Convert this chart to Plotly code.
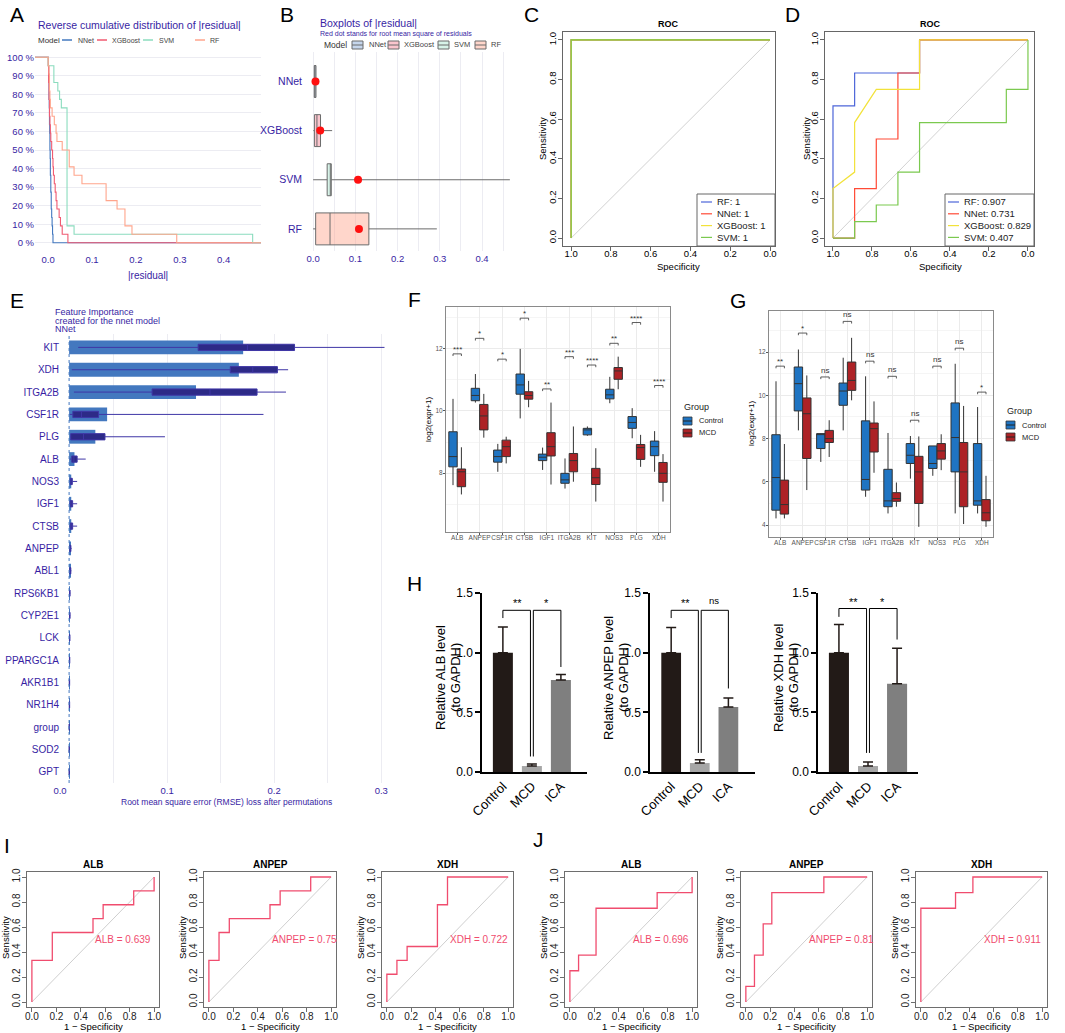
import numpy as np
import plotly.graph_objects as go

W, H = 1065, 1033
SANS = "Liberation Sans, Arial, sans-serif"
INK = "#371ea3"

# ---------------- A / B : absolute residuals (22 obs per model) ----------------
models = ["NNet", "XGBoost", "SVM", "RF"]
model_colors = ["#4378bf", "#f05a71", "#8bdcbe", "#ffa58c"]
model_fills = ["rgba(67,120,191,0.30)", "rgba(240,90,113,0.35)",
               "rgba(139,220,190,0.35)", "rgba(255,165,140,0.45)"]
res_nnet = [0.0005, 0.001, 0.0015, 0.002, 0.002, 0.0025, 0.003, 0.003, 0.0035, 0.004, 0.004,
            0.0045, 0.005, 0.005, 0.006, 0.006, 0.007, 0.007, 0.008, 0.009, 0.010, 0.011]
res_xgb = [0.0005, 0.001, 0.001, 0.002, 0.002, 0.003, 0.003, 0.004, 0.005, 0.006, 0.008,
           0.010, 0.011, 0.012, 0.014, 0.016, 0.018, 0.020, 0.025, 0.028, 0.032, 0.045]
res_svm = [0.0, 0.013, 0.013, 0.022, 0.026, 0.030, 0.043, 0.043, 0.043, 0.043, 0.043,
           0.043, 0.043, 0.043, 0.043, 0.043, 0.043, 0.043, 0.043, 0.043, 0.059, 0.466]
res_rf = [0.0, 0.002, 0.003, 0.003, 0.004, 0.005, 0.009, 0.014, 0.018, 0.020, 0.032,
          0.048, 0.048, 0.059, 0.077, 0.132, 0.132, 0.157, 0.175, 0.175, 0.191, 0.293]
residuals = [res_nnet, res_xgb, res_svm, res_rf]

# ---------------- C / D : ROC (specificity, sensitivity) ----------------
roc_models = ["RF", "NNet", "XGBoost", "SVM"]
roc_colors = ["#4d66d9", "#ff4a36", "#f2e23a", "#7bc94f"]
c_auc = ["1", "1", "1", "1"]
c_spec = [1.0, 1.0, 0.0]
c_sens = [0.0, 1.0, 1.0]
d_auc = ["0.907", "0.731", "0.829", "0.407"]
d_spec_rf = [1.0, 1.0, 0.889, 0.889, 0.556, 0.556, 0.0]
d_sens_rf = [0.0, 0.667, 0.667, 0.833, 0.833, 1.0, 1.0]
d_spec_nnet = [1.0, 0.889, 0.889, 0.778, 0.778, 0.667, 0.667, 0.556, 0.556, 0.0]
d_sens_nnet = [0.0, 0.0, 0.25, 0.25, 0.5, 0.5, 0.833, 0.833, 1.0, 1.0]
d_spec_xgb = [1.0, 1.0, 0.889, 0.889, 0.778, 0.556, 0.556, 0.0]
d_sens_xgb = [0.0, 0.25, 0.333, 0.583, 0.75, 0.75, 1.0, 1.0]
d_spec_svm = [1.0, 0.889, 0.889, 0.778, 0.778, 0.667, 0.667, 0.556, 0.556, 0.111, 0.111, 0.0, 0.0]
d_sens_svm = [0.0, 0.0, 0.083, 0.083, 0.167, 0.167, 0.333, 0.333, 0.583, 0.583, 0.75, 0.75, 1.0]
chance = [0.0, 1.0]

# ---------------- E : permutation feature importance ----------------
e_features = ["KIT", "XDH", "ITGA2B", "CSF1R", "PLG", "ALB", "NOS3", "IGF1", "CTSB", "ANPEP",
              "ABL1", "RPS6KB1", "CYP2E1", "LCK", "PPARGC1A", "AKR1B1", "NR1H4", "group", "SOD2", "GPT"]
e_baseline = 0.0085
e_mean = [0.171, 0.167, 0.127, 0.044, 0.033, 0.0135, 0.0105, 0.0105, 0.0105, 0.0097,
          0.0096, 0.0092, 0.0091, 0.0090, 0.0089, 0.0089, 0.0088, 0.0087, 0.0087, 0.0087]
e_lo = [0.017, 0.011, 0.013, 0.009, 0.0095, 0.009, 0.0088, 0.0088, 0.0088, 0.0088,
        0.0088, 0.0087, 0.0087, 0.0087, 0.0086, 0.0086, 0.0086, 0.0086, 0.0086, 0.0086]
e_q1 = [0.129, 0.159, 0.086, 0.012, 0.010, 0.011, 0.0095, 0.0095, 0.0096, 0.0092,
        0.0092, 0.0089, 0.0089, 0.0088, 0.0088, 0.0087, 0.0087, 0.0086, 0.0086, 0.0086]
e_med = [0.175, 0.180, 0.140, 0.020, 0.022, 0.013, 0.0100, 0.0103, 0.0104, 0.0096,
         0.0096, 0.0091, 0.0091, 0.0090, 0.0089, 0.0088, 0.0088, 0.0087, 0.0087, 0.0087]
e_q3 = [0.219, 0.203, 0.184, 0.036, 0.042, 0.016, 0.0115, 0.0118, 0.0118, 0.0102,
        0.0101, 0.0093, 0.0093, 0.0092, 0.0091, 0.0090, 0.0090, 0.0088, 0.0088, 0.0088]
e_hi = [0.303, 0.213, 0.211, 0.190, 0.098, 0.024, 0.016, 0.016, 0.016, 0.0108,
        0.0106, 0.0096, 0.0095, 0.0094, 0.0093, 0.0092, 0.0091, 0.0090, 0.0089, 0.0089]

# ---------------- F / G : expression boxplots (lo, q1, median, q3, hi) ----------------
genes = ["ALB", "ANPEP", "CSF1R", "CTSB", "IGF1", "ITGA2B", "KIT", "NOS3", "PLG", "XDH"]
f_ctrl_lo = [7.61, 10.27, 8.04, 9.76, 8.10, 7.50, 9.20, 10.25, 9.12, 8.04]
f_ctrl_q1 = [8.20, 10.33, 8.35, 10.54, 8.40, 7.67, 9.23, 10.39, 9.44, 8.56]
f_ctrl_med = [8.53, 10.50, 8.53, 10.84, 8.51, 7.78, 9.39, 10.52, 9.63, 8.85]
f_ctrl_q3 = [9.33, 10.73, 8.74, 11.19, 8.61, 7.99, 9.44, 10.70, 9.82, 9.03]
f_ctrl_hi = [10.39, 11.19, 8.94, 12.00, 8.82, 8.47, 9.50, 11.10, 10.09, 9.35]
f_mcd_lo = [7.31, 9.14, 8.31, 10.12, 7.63, 7.72, 7.08, 10.70, 8.20, 7.08]
f_mcd_q1 = [7.56, 9.39, 8.53, 10.38, 8.55, 8.04, 7.63, 11.02, 8.44, 7.70]
f_mcd_med = [8.04, 9.84, 8.85, 10.50, 8.85, 8.40, 7.85, 11.29, 8.82, 7.99]
f_mcd_q3 = [8.13, 10.21, 9.06, 10.62, 9.30, 8.63, 8.15, 11.40, 8.92, 8.34]
f_mcd_hi = [8.83, 10.55, 9.17, 10.97, 10.27, 9.50, 8.80, 11.75, 9.23, 8.61]
f_sig_y = [11.84, 12.34, 11.67, 12.99, 10.71, 11.75, 11.48, 12.18, 12.85, 10.82]
f_sig = ["***", "*", "*", "*", "**", "***", "****", "**", "****", "****"]

g_ctrl_lo = [4.31, 8.38, 6.92, 8.38, 5.31, 4.54, 6.15, 6.28, 4.54, 4.54]
g_ctrl_q1 = [4.69, 9.28, 7.54, 9.54, 5.62, 4.85, 6.85, 6.62, 6.46, 4.92]
g_ctrl_med = [6.20, 10.54, 8.20, 10.20, 6.11, 5.12, 7.23, 6.85, 8.05, 5.12]
g_ctrl_q3 = [8.18, 11.31, 8.23, 10.57, 8.82, 6.58, 7.77, 7.66, 9.65, 7.77]
g_ctrl_hi = [10.65, 12.12, 8.23, 11.74, 10.88, 8.26, 8.12, 7.66, 11.46, 9.46]
g_mcd_lo = [4.31, 5.62, 7.15, 9.77, 6.42, 4.85, 3.92, 6.54, 4.05, 3.92]
g_mcd_q1 = [4.51, 7.08, 7.82, 10.23, 7.38, 5.10, 5.00, 7.05, 4.85, 4.20]
g_mcd_med = [4.95, 9.15, 8.00, 10.69, 8.46, 5.23, 6.46, 7.43, 6.46, 4.57]
g_mcd_q3 = [6.08, 9.88, 8.38, 11.54, 8.72, 5.50, 7.18, 7.77, 7.82, 5.18]
g_mcd_hi = [7.75, 10.92, 8.85, 12.66, 9.72, 5.97, 8.10, 8.20, 9.51, 6.28]
g_sig_y = [11.35, 12.88, 10.85, 13.42, 11.58, 10.88, 8.85, 11.35, 12.18, 10.15]
g_sig = ["**", "*", "ns", "ns", "ns", "ns", "ns", "ns", "ns", "*"]

# ---------------- H : qPCR bars ----------------
h_groups = ["Control", "MCD", "ICA"]
h_colors = ["#221a17", "#a6a6a6", "#7f7f7f"]
h_genes = ["ALB", "ANPEP", "XDH"]
h_alb = [1.0, 0.05, 0.77]
h_alb_err = [0.215, 0.017, 0.046]
h_anpep = [1.0, 0.075, 0.545]
h_anpep_err = [0.21, 0.027, 0.075]
h_xdh = [1.0, 0.05, 0.74]
h_xdh_err = [0.235, 0.034, 0.296]
h_sig = [["**", "*"], ["**", "ns"], ["**", "*"]]
h_brk_top = [1.355, 1.355, 1.37]
h_brk_ctrl = [1.29, 1.29, 1.30]
h_brk_mcd = [0.13, 0.16, 0.16]
h_brk_ica = [0.88, 0.70, 1.11]

# ---------------- I / J : single-gene ROC (fpr, tpr) ----------------
roc_genes = ["ALB", "ANPEP", "XDH"]
i_auc = ["0.639", "0.75", "0.722"]
i_fpr_alb = [0, 0, 0.167, 0.167, 0.5, 0.5, 0.583, 0.583, 0.833, 0.833, 1, 1]
i_tpr_alb = [0, 0.333, 0.333, 0.556, 0.556, 0.667, 0.667, 0.778, 0.778, 0.889, 0.889, 1]
i_fpr_anpep = [0, 0, 0.083, 0.083, 0.167, 0.167, 0.5, 0.5, 0.583, 0.583, 0.833, 0.833, 1]
i_tpr_anpep = [0, 0.333, 0.333, 0.556, 0.556, 0.667, 0.667, 0.778, 0.778, 0.889, 0.889, 1, 1]
i_fpr_xdh = [0, 0, 0.083, 0.083, 0.167, 0.167, 0.417, 0.417, 0.5, 0.5, 1]
i_tpr_xdh = [0, 0.222, 0.222, 0.333, 0.333, 0.444, 0.444, 0.778, 0.778, 1, 1]
j_auc = ["0.696", "0.81", "0.911"]
j_fpr_alb = [0, 0, 0.071, 0.071, 0.214, 0.214, 0.714, 0.714, 1, 1]
j_tpr_alb = [0, 0.25, 0.25, 0.375, 0.375, 0.75, 0.75, 0.875, 0.875, 1]
j_fpr_anpep = [0, 0, 0.071, 0.071, 0.143, 0.143, 0.214, 0.214, 0.643, 0.643, 1]
j_tpr_anpep = [0, 0.125, 0.125, 0.375, 0.375, 0.625, 0.625, 0.875, 0.875, 1, 1]
j_fpr_xdh = [0, 0, 0.286, 0.286, 0.429, 0.429, 1]
j_tpr_xdh = [0, 0.75, 0.75, 0.875, 0.875, 1, 1]

# ======================================================================
fig = go.Figure()
lay = {}
ann = []
shp = []


def add_axes(n, box, xa, ya):
    x0, x1, y0, y1 = box
    sx = "" if n == 1 else str(n)
    bx = dict(domain=[x0 / W, x1 / W], anchor="y" + sx, zeroline=False, showgrid=False, automargin=False)
    by = dict(domain=[1 - y1 / H, 1 - y0 / H], anchor="x" + sx, zeroline=False, showgrid=False,
              automargin=False)
    bx.update(xa)
    by.update(ya)
    lay["xaxis" + sx] = bx
    lay["yaxis" + sx] = by
    return "x" + sx, "y" + sx


def txt(x, y, s, size=10, color="black", xa="center", ya="middle", angle=0):
    ann.append(dict(x=x / W, y=1 - y / H, xref="paper", yref="paper", text=s, showarrow=False,
                    font=dict(size=size, color=color, family=SANS), xanchor=xa, yanchor=ya,
                    textangle=angle))


def pline(x0, y0, x1, y1, color, width=1.5):
    shp.append(dict(type="line", xref="paper", yref="paper", x0=x0 / W, y0=1 - y0 / H,
                    x1=x1 / W, y1=1 - y1 / H, line=dict(color=color, width=width)))


def prect(x0, y0, x1, y1, fill, line="#555", width=1):
    shp.append(dict(type="rect", xref="paper", yref="paper", x0=x0 / W, y0=1 - y1 / H,
                    x1=x1 / W, y1=1 - y0 / H, fillcolor=fill, line=dict(color=line, width=width)))


def dline(xr, yr, x0, y0, x1, y1, color="black", width=1):
    shp.append(dict(type="line", xref=xr, yref=yr, x0=x0, y0=y0, x1=x1, y1=y1,
                    line=dict(color=color, width=width)))


# ---------------- panel letters ----------------
for s, x, y in [("A", 17, 15), ("B", 287, 15), ("C", 531, 15), ("D", 792, 15), ("E", 17, 300),
                ("F", 414, 299), ("G", 738, 301), ("H", 414, 583), ("I", 7, 845), ("J", 538, 839)]:
    txt(x, y, s, size=21)

# ---------------- A ----------------
xa, ya = add_axes(1, (35, 261, 48, 252),
                  dict(range=[-0.03, 0.485], tickvals=[0, 0.1, 0.2, 0.3, 0.4], tickformat=".1f",
                       tickfont=dict(size=9.5, color=INK)),
                  dict(range=[-5, 105], tickvals=list(range(0, 101, 10)),
                       ticktext=[f"{v} %" for v in range(0, 101, 10)],
                       showgrid=True, gridcolor="#ececf2", tickfont=dict(size=9.5, color=INK)))
for name, res, col in zip(models, residuals, model_colors):
    r = np.sort(np.asarray(res))
    n = len(r)
    xs = np.concatenate([[-1.0], r, [1.0]])
    ys = np.concatenate([[100.0], 100.0 * (1 - np.arange(1, n + 1) / n), [0.0]])
    fig.add_trace(go.Scatter(x=xs, y=ys, mode="lines", line=dict(color=col, width=1.1, shape="hv"),
                             xaxis=xa, yaxis=ya, showlegend=False))
txt(36, 25, "Reverse cumulative distribution of |residual|", 10.5, INK, xa="left")
txt(36, 40, "Model", 8, "#333", xa="left")
for (lx, tx), name, col in zip([(62, 76), (97, 110), (143, 157), (195, 208)], models, model_colors):
    pline(lx, 40, lx + 10, 40, col, 1.5)
    txt(tx, 40, name, 7, "#444", xa="left")
txt(148, 275, "|residual|", 10, INK)

# ---------------- B ----------------
xb, yb = add_axes(2, (303, 520, 52, 251),
                  dict(range=[-0.024, 0.49], tickvals=[i * 0.05 for i in range(10)],
                       ticktext=["0.0", "", "0.1", "", "0.2", "", "0.3", "", "0.4", ""],
                       showgrid=True, gridcolor="#ececf2", tickfont=dict(size=9.5, color=INK)),
                  dict(type="category", categoryorder="array", categoryarray=models[::-1],
                       range=[-0.45, 3.6], tickfont=dict(size=10.5, color=INK)))
rmse = []
for name, res, fill in zip(models, residuals, model_fills):
    r = np.asarray(res)
    q1, med, q3 = np.percentile(r, [25, 50, 75])
    rmse.append(float(np.sqrt(np.mean(r ** 2))))
    fig.add_trace(go.Box(y=[name], q1=[q1], median=[med], q3=[q3], lowerfence=[r.min()],
                         upperfence=[r.max()], orientation="h", fillcolor=fill,
                         line=dict(color="#6b6b6b", width=1), whiskerwidth=0, width=0.65,
                         offsetgroup="B", boxpoints=False, xaxis=xb, yaxis=yb, showlegend=False))
fig.add_trace(go.Scatter(x=rmse, y=models, mode="markers", marker=dict(color="#ff1010", size=8),
                         xaxis=xb, yaxis=yb, showlegend=False))
txt(318, 23, "Boxplots of |residual|", 10.5, INK, xa="left")
txt(318, 34, "Red dot stands for root mean square of residuals", 7, INK, xa="left")
txt(322, 45, "Model", 8.5, "#333", xa="left")
for (ix, tx), name, fill in zip([(352, 367), (388, 402), (438, 452), (475, 489)], models, model_fills):
    prect(ix, 41, ix + 11, 49, fill, "#6b6b6b")
    pline(ix, 45, ix + 11, 45, "#6b6b6b", 1)
    txt(tx, 45, name, 7.5, "#444", xa="left")

# ---------------- C / D ----------------
def roc_axes(n, box, xrange, xvals):
    frame = dict(showline=True, mirror=True, linecolor="#666", linewidth=1, ticks="outside",
                 ticklen=4, tickcolor="#666", tickformat=".1f", tickfont=dict(size=9.5, color="black"))
    xd = dict(frame, range=xrange, tickvals=xvals, ticklabelstandoff=-5)
    yd = dict(frame, range=[-0.04, 1.04], tickvals=[0, 0.2, 0.4, 0.6, 0.8, 1.0], tickangle=-90,
              ticklabelstandoff=-2)
    return add_axes(n, box, xd, yd)


spec_ticks = [1.0, 0.8, 0.6, 0.4, 0.2, 0.0]
xc, yc = roc_axes(3, (563, 775, 32, 246), [1.041, -0.025], spec_ticks)
xd_, yd_ = roc_axes(4, (825, 1034, 32, 246), [1.041, -0.031], spec_ticks)
for xr, yr in [(xc, yc), (xd_, yd_)]:
    fig.add_trace(go.Scatter(x=chance[::-1], y=chance, mode="lines", line=dict(color="#d2d2d2", width=1),
                             xaxis=xr, yaxis=yr, showlegend=False))
for col in roc_colors:
    fig.add_trace(go.Scatter(x=c_spec, y=c_sens, mode="lines", line=dict(color=col, width=1.2),
                             xaxis=xc, yaxis=yc, showlegend=False))
for sp, se, col in zip([d_spec_rf, d_spec_nnet, d_spec_xgb, d_spec_svm],
                       [d_sens_rf, d_sens_nnet, d_sens_xgb, d_sens_svm], roc_colors):
    fig.add_trace(go.Scatter(x=sp, y=se, mode="lines", line=dict(color=col, width=1.2),
                             xaxis=xd_, yaxis=yd_, showlegend=False))
for cx, lx0, lx1, tx, aucs in [(668, 697, 775, 715, c_auc), (930, 945, 1034, 962, d_auc)]:
    txt(cx, 24, "<b>ROC</b>", 9)
    prect(lx0, 194, lx1, 246, "white", "#666")
    for k, (name, col, a) in enumerate(zip(roc_models, roc_colors, aucs)):
        yy = 202 + k * 11.8
        pline(tx - 14, yy, tx - 3, yy, col, 1.2)
        txt(tx, yy, f"{name}: {a}", 9.5, "#222", xa="left")
txt(678, 266, "Specificity", 9.5)
txt(940, 266, "Specificity", 9.5)
txt(543, 139, "Sensitivity", 9.5, angle=-90)
txt(807, 139, "Sensitivity", 9.5, angle=-90)

# ---------------- E ----------------
xe, ye = add_axes(5, (60, 392, 334, 783),
                  dict(range=[0.0, 0.31], tickvals=[i * 0.05 for i in range(7)],
                       ticktext=["0.0", "", "0.1", "", "0.2", "", "0.3"], showgrid=True,
                       gridcolor="#ececf2", tickfont=dict(size=9.5, color=INK)),
                  dict(type="category", categoryorder="array", categoryarray=e_features[::-1],
                       range=[-0.5, 19.6], tickfont=dict(size=10, color=INK)))
fig.add_trace(go.Bar(y=e_features, x=np.asarray(e_mean) - e_baseline, base=e_baseline, orientation="h",
                     marker=dict(color="#4378bf", line=dict(width=0)), width=0.62,
                     xaxis=xe, yaxis=ye, showlegend=False))
fig.add_trace(go.Box(y=e_features, q1=e_q1, median=e_med, q3=e_q3, lowerfence=e_lo, upperfence=e_hi,
                     orientation="h", fillcolor="#2d2a87", line=dict(color="#3f36a6", width=1),
                     whiskerwidth=0, width=0.28, offsetgroup="E", boxpoints=False,
                     xaxis=xe, yaxis=ye, showlegend=False))
shp.append(dict(type="line", xref=xe, yref=ye + " domain", x0=e_baseline, x1=e_baseline, y0=0, y1=1,
                line=dict(color="#4378bf", width=1, dash="dot")))
txt(53, 312, "Feature Importance", 9, INK, xa="left")
txt(53, 320.5, "created for the nnet model", 9, INK, xa="left")
txt(53, 329, "NNet", 9, INK, xa="left")
txt(226, 802, "Root mean square error (RMSE) loss after permutations", 8.5, INK)

# ---------------- F / G ----------------
CTRL, MCD = "#1f74c2", "#ad2226"


def expr_panel(n, box, yrange, yvals, ctrl, mcd, sig_y, sig, tip):
    frame = dict(showline=True, mirror=True, linecolor="#8a8a8a", linewidth=1, showgrid=True,
                 gridcolor="#ebebeb", ticks="outside", ticklen=2, tickcolor="#555",
                 tickfont=dict(size=6.5, color="#555"))
    xr, yr = add_axes(n, box,
                      dict(frame, type="category", categoryorder="array", categoryarray=genes,
                           range=[-0.5, 9.5], tickangle=0, ticklabelstandoff=-3),
                      dict(frame, range=yrange, tickvals=yvals, ticklabelstandoff=-1,
                           minor=dict(dtick=1, showgrid=True, gridcolor="#f5f5f5")))
    for stats, col, grp in [(ctrl, CTRL, "ctrl"), (mcd, MCD, "mcd")]:
        lo, q1, med, q3, hi = stats
        fig.add_trace(go.Box(x=genes, q1=q1, median=med, q3=q3, lowerfence=lo, upperfence=hi,
                             fillcolor=col, line=dict(color="#333", width=1), whiskerwidth=0,
                             offsetgroup=grp, boxpoints=False, xaxis=xr, yaxis=yr, showlegend=False))
    for i, (h, s) in enumerate(zip(sig_y, sig)):
        dline(xr, yr, i - 0.1875, h, i + 0.1875, h, "#333", 0.8)
        dline(xr, yr, i - 0.1875, h, i - 0.1875, h - tip, "#333", 0.8)
        dline(xr, yr, i + 0.1875, h, i + 0.1875, h - tip, "#333", 0.8)
        ann.append(dict(x=i, y=h, xref=xr, yref=yr, text=s, showarrow=False, yanchor="bottom",
                        yshift=-2 if "*" in s else 0, font=dict(size=8, color="#333", family=SANS)))


expr_panel(6, (446, 670, 307, 532), [6.1, 13.35], [8, 10, 12],
           (f_ctrl_lo, f_ctrl_q1, f_ctrl_med, f_ctrl_q3, f_ctrl_hi),
           (f_mcd_lo, f_mcd_q1, f_mcd_med, f_mcd_q3, f_mcd_hi), f_sig_y, f_sig, 0.07)
expr_panel(7, (769, 993, 311, 537), [3.45, 13.9], [4, 6, 8, 10, 12],
           (g_ctrl_lo, g_ctrl_q1, g_ctrl_med, g_ctrl_q3, g_ctrl_hi),
           (g_mcd_lo, g_mcd_q1, g_mcd_med, g_mcd_q3, g_mcd_hi), g_sig_y, g_sig, 0.1)
txt(428, 420, "log2(expr+1)", 8, angle=-90)
txt(752, 424, "log2(expr+1)", 8, angle=-90)
for gx, gy in [(682, 407), (1005, 411)]:
    txt(gx, gy, "Group", 9, "#222", xa="left")
    for k, (lab, col) in enumerate([("Control", CTRL), ("MCD", MCD)]):
        y0 = gy + 10 + k * 12
        prect(gx + 1, y0, gx + 10, y0 + 8, col, "#333", 0.8)
        pline(gx + 1, y0 + 4, gx + 10, y0 + 4, "#222", 1)
        txt(gx + 15, y0 + 4, lab, 7.5, "#222", xa="left")

# ---------------- H ----------------
h_vals = [h_alb, h_anpep, h_xdh]
h_errs = [h_alb_err, h_anpep_err, h_xdh_err]
h_boxes = [(482, 587), (650, 755), (818, 918)]
h_ranges = [[-0.72, 2.9], [-0.74, 2.93], [-0.72, 2.72]]
h_titles = [(440, 455), (608, 623), (778, 793)]
for k in range(3):
    xr, yr = add_axes(8 + k, (h_boxes[k][0], h_boxes[k][1], 593, 772),
                      dict(type="category", range=h_ranges[k], showline=True, linecolor="black",
                           linewidth=1.5, tickangle=-45, tickfont=dict(size=13, color="black")),
                      dict(range=[0, 1.5], tickvals=[0, 0.5, 1.0, 1.5], tickformat=".1f",
                           showline=True, linecolor="black", linewidth=1.5, ticks="outside",
                           ticklen=5, tickwidth=1.5, tickcolor="black",
                           tickfont=dict(size=12, color="black")))
    fig.add_trace(go.Bar(x=h_groups, y=h_vals[k], width=0.69, marker=dict(color=h_colors, line=dict(width=0)),
                         error_y=dict(type="data", array=h_errs[k], arrayminus=[0, 0, 0], symmetric=False,
                                      color="#221a17", thickness=1.5, width=5),
                         xaxis=xr, yaxis=yr, showlegend=False))
    top = h_brk_top[k]
    dline(xr, yr, 0, h_brk_ctrl[k], 0, top)
    dline(xr, yr, 0, top, 0.95, top)
    dline(xr, yr, 0.95, top, 0.95, h_brk_mcd[k])
    dline(xr, yr, 1.05, h_brk_mcd[k], 1.05, top)
    dline(xr, yr, 1.05, top, 2, top)
    dline(xr, yr, 2, top, 2, h_brk_ica[k])
    for xpos, s in zip([0.5, 1.5], h_sig[k]):
        ann.append(dict(x=xpos, y=top, xref=xr, yref=yr, text=s, showarrow=False, yanchor="bottom",
                        yshift=2 if s == "ns" else -1, font=dict(size=11 if "*" in s else 9.5,
                                                                  color="black", family=SANS)))
    txt(h_titles[k][0], 678, f"Relative {h_genes[k]} level", 13, angle=-90)
    txt(h_titles[k][1], 678, "(to GAPDH)", 13, angle=-90)

# ---------------- I / J ----------------
PINK = "#f04c6e"
roc_sets = [
    (11, (27, 159), i_fpr_alb, i_tpr_alb, i_auc[0], roc_genes[0]),
    (12, (204, 336), i_fpr_anpep, i_tpr_anpep, i_auc[1], roc_genes[1]),
    (13, (382, 513), i_fpr_xdh, i_tpr_xdh, i_auc[2], roc_genes[2]),
    (14, (565, 697), j_fpr_alb, j_tpr_alb, j_auc[0], roc_genes[0]),
    (15, (741, 872), j_fpr_anpep, j_tpr_anpep, j_auc[1], roc_genes[1]),
    (16, (916, 1047), j_fpr_xdh, j_tpr_xdh, j_auc[2], roc_genes[2]),
]
ticks01 = [0, 0.2, 0.4, 0.6, 0.8, 1.0]
for n, (x0, x1), fpr, tpr, auc, gene in roc_sets:
    frame = dict(showline=True, mirror=True, linecolor="#6e6e6e", linewidth=1, ticks="outside",
                 ticklen=4, tickcolor="#6e6e6e", tickformat=".1f", tickvals=ticks01,
                 range=[-0.04, 1.04], tickfont=dict(size=10, color="#222"))
    xr, yr = add_axes(n, (x0, x1, 872, 1007), dict(frame, ticklabelstandoff=-4),
                      dict(frame, tickangle=-90, ticklabelstandoff=-2))
    fig.add_trace(go.Scatter(x=chance, y=chance, mode="lines", line=dict(color="#cfcfcf", width=1),
                             xaxis=xr, yaxis=yr, showlegend=False))
    fig.add_trace(go.Scatter(x=fpr, y=tpr, mode="lines", line=dict(color=PINK, width=1.3),
                             xaxis=xr, yaxis=yr, showlegend=False))
    ann.append(dict(x=0.5, y=0.5, xref=xr, yref=yr, text=f"{gene} = {auc}", showarrow=False,
                    xanchor="left", yanchor="middle", font=dict(size=10, color=PINK, family=SANS)))
    cx = (x0 + x1) / 2
    txt(cx, 864, f"<b>{gene}</b>", 10)
    txt(cx, 1026, "1 − Specificity", 9.5)
    txt(x0 - 22, 938, "Sensitivity", 9.5, angle=-90)

fig.update_layout(
    width=W, height=H, margin=dict(l=0, r=0, t=0, b=0, pad=0),
    paper_bgcolor="white", plot_bgcolor="white", showlegend=False,
    boxmode="group", boxgap=0.25, boxgroupgap=0,
    font=dict(family=SANS, color="black"),
    annotations=ann, shapes=shp, **lay,
)
fig.write_html("out.html", config={"displayModeBar": False},
               post_script="document.body.style.margin='0';")
